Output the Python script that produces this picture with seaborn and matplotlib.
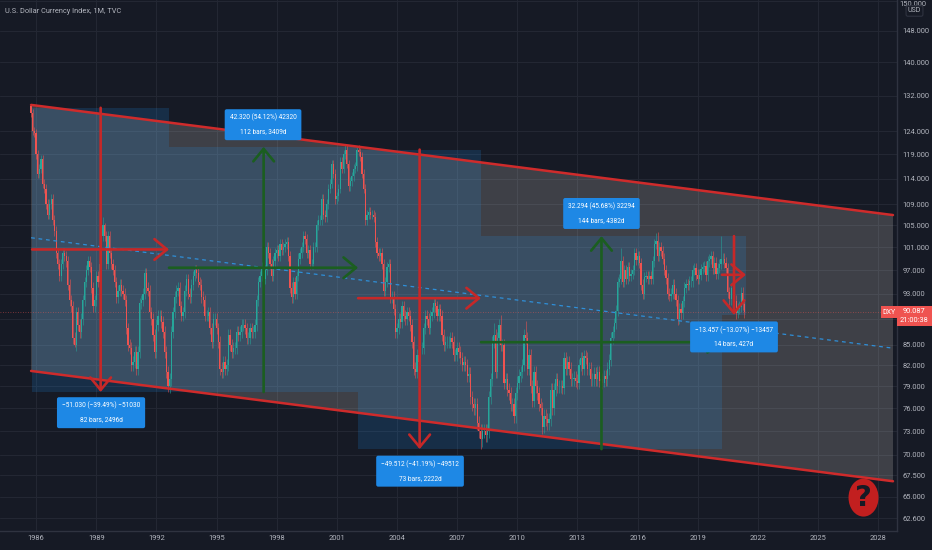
import numpy as np
import pandas as pd
import seaborn as sns
import matplotlib
matplotlib.use("Agg")
import matplotlib.pyplot as plt
from matplotlib.patches import Rectangle, Ellipse, Polygon

# ---------- data ----------
closes_by_year = {
    1985: [128, 124, 123.5],
    1986: [119, 115, 116, 118, 113, 112, 109, 107, 109, 110, 106, 104],
    1987: [100, 98, 96, 98, 100, 99.5, 98.5, 94.5, 92, 91, 86, 85],
    1988: [90, 88, 87, 89, 92, 95, 97, 98.5, 97.5, 94, 91, 92],
    1989: [96, 95, 98, 103, 105, 103, 98, 103, 100, 98, 97, 95],
    1990: [92.5, 93.5, 94.5, 93.5, 93, 92, 87.5, 85, 84.5, 82, 82.5, 84],
    1991: [81.5, 84, 91.5, 92, 93, 96.5, 94, 93.5, 90, 89, 86.5, 84],
    1992: [88, 89.5, 89.5, 88.5, 87, 84, 81, 79, 80, 87, 90, 92.5],
    1993: [93.5, 94, 91, 89.5, 90, 93.5, 95.5, 93, 92.5, 94.5, 96, 97],
    1994: [96.5, 95, 94.5, 92.5, 92, 89.5, 89.5, 90, 87.5, 85.5, 89, 89],
    1995: [87.5, 85.5, 81.5, 81, 82.5, 81.5, 82, 86.5, 85, 84, 84.5, 84.5],
    1996: [87, 86.5, 87, 88, 88, 87.5, 86, 86, 87.5, 87, 87, 88],
    1997: [92, 95, 96, 97.5, 95.5, 97, 101, 100, 98, 96, 98.5, 100],
    1998: [100.5, 99.5, 101.5, 100.5, 101, 101.5, 102, 99.5, 94, 92.5, 95, 93],
    1999: [96, 99, 100, 101, 103, 102.5, 100, 100.5, 98, 98, 101, 101],
    2000: [105, 106, 106, 110, 107, 106.5, 109, 112, 113, 117, 115, 110],
    2001: [110.5, 112, 117.5, 116, 119, 120, 117, 112.5, 113.5, 114.5, 116, 116.5],
    2002: [120, 119.5, 118.5, 115, 112, 106, 107, 107.5, 107, 107, 106.5, 102],
    2003: [100, 99.5, 100, 98, 93.5, 95, 97.5, 98, 92.5, 92.5, 90.5, 87],
    2004: [87.5, 89, 88.5, 91, 89.5, 89, 90, 89.5, 88, 85.5, 81.5, 81],
    2005: [83.5, 82.5, 84.5, 84.5, 87.5, 89.5, 89, 87.5, 89.5, 90, 91.5, 91],
    2006: [89.5, 90.5, 89.5, 86.5, 85, 85.5, 85.5, 85.5, 86, 85.5, 83.5, 83.5],
    2007: [84.5, 84, 83, 82, 82.5, 82, 80.5, 80.8, 77.5, 76.5, 76, 76.5],
    2008: [74, 73, 72, 73, 73, 72.5, 73, 77.5, 80, 85.5, 86.5, 81],
    2009: [86, 88, 85, 85, 79.5, 80, 78.5, 78, 76.5, 76.5, 75, 78],
    2010: [79.5, 80.5, 81, 82, 86.5, 86, 81.5, 83.5, 79, 77, 81, 79],
    2011: [78, 76.5, 76, 73.5, 75, 74.5, 74, 74.5, 78.5, 76, 78.5, 80],
    2012: [79, 79, 79, 78.8, 83, 81.5, 82.5, 81.5, 80, 80, 80.2, 79.8],
    2013: [79.5, 82, 83, 81.5, 83.3, 83, 81.5, 81.5, 80, 80, 80.8, 80],
    2014: [81, 79.8, 80, 79.5, 80.4, 80, 81.5, 82.8, 86, 87, 88.3, 90.3],
    2015: [95, 95.5, 98.5, 95, 97, 95.5, 97.5, 96, 96.3, 97, 100, 98.7],
    2016: [99.5, 98.2, 94.5, 93, 95.8, 96, 95.5, 96, 95.5, 98.5, 101.5, 102.2],
    2017: [99.5, 101, 100.3, 99, 97, 95.6, 93, 92.7, 93, 94.5, 93, 92],
    2018: [89, 90.6, 89.9, 91.8, 94, 94.6, 94.5, 95.1, 95.1, 97, 97.3, 96.2],
    2019: [95.5, 96.2, 97.2, 97.5, 97.7, 96.1, 98.5, 98.9, 99.4, 97.3, 98.3, 96.4],
    2020: [97.4, 98.1, 99, 99, 98.3, 97.4, 93.3, 92.1, 93.9, 94, 91.9, 89.9],
    2021: [90.6, 90.9, 93.2, 91.3, 90.087],
}
first_open = 129.5
typical_wick = 0.9
wick_highs = {(1985, 10): 129.8, (1989, 5): 106.5, (1989, 6): 105.5, (2008, 11): 88.4,
              (2009, 3): 89.6, (2010, 6): 88.7, (2017, 1): 103.8, (2020, 3): 103.0,
              (2001, 7): 121.0, (2002, 1): 120.6, (2015, 3): 100.8, (2016, 12): 103.6}
wick_lows = {(1987, 12): 84.7, (1992, 8): 78.2, (2008, 3): 70.7, (2008, 4): 71.0,
             (2011, 5): 72.7, (2018, 2): 88.2, (2021, 1): 89.2, (2014, 5): 78.9}

price_ticks = [62.6, 65, 67.5, 70, 73, 76, 79, 82, 85, 89, 93, 97, 101, 105, 109, 114,
               119, 124, 132, 140, 148, 156]
price_tick_labels = ["62.600", "65.000", "67.500", "70.000", "73.000", "76.000", "79.000",
                     "82.000", "85.000", "", "93.000", "97.000", "101.000", "105.000",
                     "109.000", "114.000", "119.000", "124.000", "132.000", "140.000",
                     "148.000", ""]
year_ticks = [1986, 1989, 1992, 1995, 1998, 2001, 2004, 2007, 2010, 2013, 2016, 2019, 2022,
              2025, 2028]

channel_x = [1985.75, 2028.74]
channel_top = [129.86, 106.9]
channel_bottom = [81.17, 66.8]
channel_mid = [102.7, 84.5]

# name, x0, x1, price at start, price at end, price of the horizontal, x of the vertical
measures = [
    ("down", 1985.8, 1992.63, 129.2, 78.2, 100.6, 1989.22),
    ("up", 1992.63, 2002.06, 78.2, 120.6, 97.4, 1997.35),
    ("down", 2002.06, 2008.19, 120.0, 70.7, 92.3, 2005.13),
    ("up", 2008.19, 2020.21, 70.7, 103.0, 85.4, 2014.2),
    ("down", 2020.21, 2021.41, 103.0, 89.6, 96.2, 2020.81),
]
label_texts = [
    "\u221251.030 (\u221239.49%) \u221251030\n82 bars, 2496d",
    "42.320 (54.12%) 42320\n112 bars, 3409d",
    "\u221249.512 (\u221241.19%) \u221249512\n73 bars, 2222d",
    "32.294 (45.68%) 32294\n144 bars, 4382d",
    "\u221213.457 (\u221213.07%) \u221213457\n14 bars, 427d",
]
label_x = [1989.24, 1997.32, 2005.15, 2014.2, 2020.81]
label_price = [75.4, 125.4, 68.0, 107.2, 86.2]
last_price = 90.087

# ---------- style ----------
BG = "#161a25"
GRID = "#232733"
AXIS = "#2f3340"
TXT = "#b2b5be"
UP = "#26a69a"
DOWN = "#ef5350"
RED = "#c62828"
GREEN = "#1b5e20"
BLUE = "#2196f3"
FONT = ["Roboto", "DejaVu Sans"]
sns.set_theme(style="dark", rc={
    "figure.facecolor": BG, "axes.facecolor": BG, "savefig.facecolor": BG,
    "font.family": FONT, "axes.edgecolor": AXIS,
    "xtick.color": TXT, "ytick.color": TXT, "text.color": TXT,
})

fig = plt.figure(figsize=(9.32, 5.5), dpi=100)
ax = fig.add_axes([0, 19 / 550, 897 / 932, 531 / 550])
ax.set_yscale("log")
ax.set_xlim(1984.2, 2028.94)
ax.set_ylim(61.18, 156.3)

ax.set_xticks(year_ticks)
ax.set_xticklabels([str(y) for y in year_ticks], fontsize=5.4)
ax.yaxis.tick_right()
ax.set_yticks(price_ticks)
ax.set_yticklabels(price_tick_labels, fontsize=5.4)
ax.minorticks_off()
ax.tick_params(axis="y", length=0, pad=4)
ax.tick_params(axis="x", length=0, pad=3)
ax.grid(True, color=GRID, lw=0.8, zorder=0)
ax.set_axisbelow(True)
for side in ("top", "left"):
    ax.spines[side].set_visible(False)
for side in ("right", "bottom"):
    ax.spines[side].set_color(AXIS)
    ax.spines[side].set_linewidth(1)

# ---------- channel ----------
ax.add_patch(Polygon(
    [(channel_x[0], channel_top[0]), (channel_x[1], channel_top[1]),
     (channel_x[1], channel_bottom[1]), (channel_x[0], channel_bottom[0])],
    closed=True, fc="#f5f2e6", ec="none", alpha=0.18, zorder=1))

# ---------- measure rectangles ----------
for kind, x0, x1, p0, p1, pm, xv in measures:
    lo, hi = min(p0, p1), max(p0, p1)
    ax.add_patch(Rectangle((x0, lo), x1 - x0, hi - lo, fc=BLUE, ec="none", alpha=0.17, zorder=1.5))

# ---------- candles ----------
rows = []
prev = first_open
for year, vals in closes_by_year.items():
    start = 10 if year == 1985 else 1
    for k, c in enumerate(vals):
        month = start + k
        o = prev
        hi = wick_highs.get((year, month), max(o, c) + typical_wick)
        lo = wick_lows.get((year, month), min(o, c) - typical_wick)
        rows.append((year + (month - 1) / 12, o, hi, lo, c))
        prev = c
bars = pd.DataFrame(rows, columns=["t", "open", "high", "low", "close"])
cols = np.where(bars["close"] >= bars["open"], UP, DOWN)
ax.vlines(bars["t"], bars["low"], bars["high"], colors=cols, lw=0.7, alpha=0.55, zorder=3)
ax.bar(bars["t"], (bars["close"] - bars["open"]).abs(),
       bottom=bars[["open", "close"]].min(axis=1), width=0.062,
       color=cols, linewidth=0, zorder=3.1)

# ---------- channel lines ----------
lines = pd.DataFrame({"x": channel_x * 3,
                      "y": channel_top + channel_bottom + channel_mid,
                      "which": ["top"] * 2 + ["bottom"] * 2 + ["mid"] * 2})
sns.lineplot(data=lines[lines.which == "top"], x="x", y="y", color="#cf2b2b", lw=1.8, ax=ax,
             zorder=5, estimator=None, legend=False)
sns.lineplot(data=lines[lines.which == "bottom"], x="x", y="y", color="#cf2b2b", lw=1.8, ax=ax,
             zorder=5, estimator=None, legend=False)
sns.lineplot(data=lines[lines.which == "mid"], x="x", y="y", color="#2f8fd8", lw=0.9, ax=ax,
             zorder=4, estimator=None, legend=False, linestyle=(0, (3, 3)))
ax.set_xlabel("")
ax.set_ylabel("")

# last price line
ax.axhline(last_price, color=DOWN, lw=0.6, ls=(0, (1, 2)), alpha=0.6, zorder=2.5)

# ---------- arrows ----------
def arrow(x0, y0, x1, y1, color):
    ax.annotate("", xy=(x1, y1), xytext=(x0, y0), zorder=6,
                arrowprops=dict(arrowstyle="->,head_length=0.75,head_width=0.62", lw=1.9,
                                color=color, shrinkA=0, shrinkB=0, mutation_scale=12))

for kind, x0, x1, p0, p1, pm, xv in measures:
    color = RED if kind == "down" else GREEN
    arrow(x0, pm, x1, pm, color)
    arrow(xv, p0, xv, p1, color)

# ---------- measure labels ----------
for txt, lx, lp in zip(label_texts, label_x, label_price):
    ax.text(lx, lp, txt, ha="center", va="center", color="white", fontsize=4.7, zorder=8,
            linespacing=2.3,
            bbox=dict(boxstyle="round,pad=0.75,rounding_size=0.3", fc="#1e88e5", ec="none"))

# ---------- question mark ----------
fig.canvas.draw()
cx, cy = ax.transData.transform((2027.27, 64.9))
ax.add_patch(Ellipse((cx, cy), 30, 38, transform=None, fc="#c21f1f", ec="none", zorder=7, clip_on=False))
ax.text(2027.27, 64.9, "?", ha="center", va="center", fontsize=21, fontweight="bold",
        color=BG, family="DejaVu Sans", zorder=8)

# ---------- header and price axis furniture ----------
ax.text(0.0055, 0.985, "U.S. Dollar Currency Index, 1M, TVC", transform=ax.transAxes,
        ha="left", va="top", fontsize=5.3, color=TXT, zorder=9)
fig.text(913 / 932, 1 - 4 / 550, "150.000", ha="center", va="center", fontsize=5.4, color=TXT)
fig.text(914.5 / 932, 1 - 11 / 550, "USD", ha="center", va="center", fontsize=5.0, color=TXT,
         bbox=dict(boxstyle="round,pad=0.25", fc=BG, ec=AXIS, lw=0.8))

fig.add_artist(Rectangle((881 / 932, 1 - 318 / 550), 16 / 932, 12 / 550,
                         transform=fig.transFigure, fc=DOWN, ec="none"))
fig.add_artist(Rectangle((897 / 932, 1 - 326 / 550), 35 / 932, 20 / 550,
                         transform=fig.transFigure, fc=DOWN, ec="none"))
fig.text(889 / 932, 1 - 312 / 550, "DXY", ha="center", va="center", fontsize=5.0, color="white")
fig.text(914 / 932, 1 - 316 / 550, "90.087\n21:00:38", ha="center", va="center", fontsize=5.4,
         color="white", linespacing=1.25)

fig.savefig("out.png", dpi=100)
